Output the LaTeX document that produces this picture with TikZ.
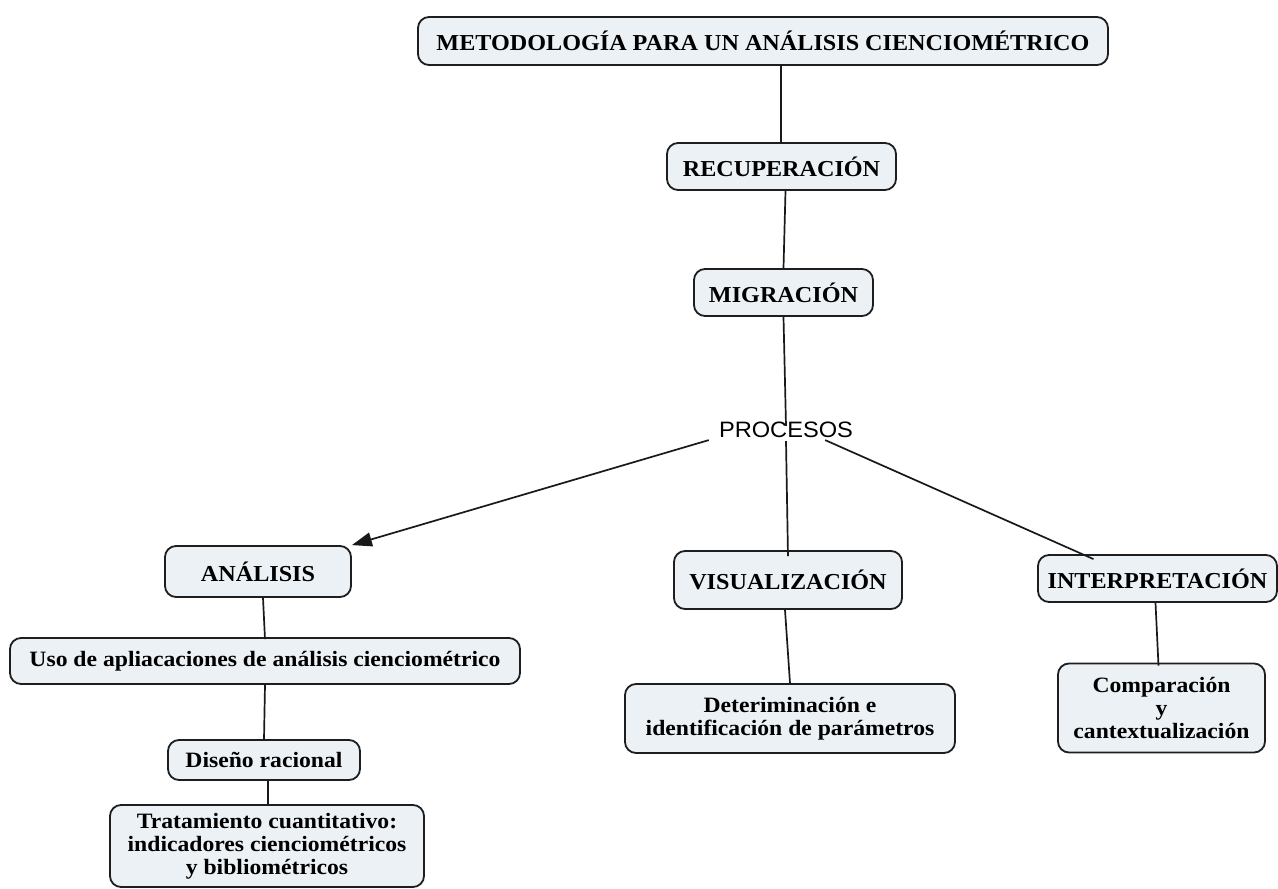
\documentclass[tikz,border=0pt]{standalone}
\usepackage{fontspec}
\setmainfont{Liberation Serif}
\newfontfamily\boxfont[FakeStretch=1.06]{Liberation Serif}
\newfontfamily\smallboxfont[FakeStretch=1.08]{Liberation Serif}
\newfontfamily\procfont[FakeStretch=1.06]{Liberation Sans}
\usetikzlibrary{arrows.meta}
\definecolor{boxfill}{RGB}{235,241,244}
\definecolor{boxline}{RGB}{30,30,30}
\tikzset{
  cbox/.style={draw=boxline, line width=1.8pt, rounded corners=11pt, fill=boxfill,
    align=center, inner sep=0pt},
  big/.style={font=\boxfont\bfseries\fontsize{22.8}{26}\selectfont},
  small/.style={font=\smallboxfont\bfseries\fontsize{21.9}{23}\selectfont},
  conn/.style={line width=1.7pt, draw=black!90},
}
\begin{document}
\begin{tikzpicture}[x=1pt,y=-1pt]
\useasboundingbox (0,0) rectangle (1278,889);
\node[cbox,big,minimum width=690pt,minimum height=48pt] (title) at (763,41) {METODOLOGÍA PARA UN ANÁLISIS CIENCIOMÉTRICO};
\node[cbox,big,minimum width=229pt,minimum height=47pt] (recup) at (781.5,166.5) {RECUPERACIÓN};
\node[cbox,big,minimum width=179pt,minimum height=47pt] (migr) at (783.5,292.5) {MIGRACIÓN};
\node[font=\procfont\fontsize{22.3}{26}\selectfont, inner sep=2pt] (proc) at (786,430) {PROCESOS};
\node[cbox,big,minimum width=186pt,minimum height=51pt] (anal) at (258,571.5) {ANÁLISIS};
\node[cbox,big,minimum width=228pt,minimum height=58pt] (vis) at (788,580) {VISUALIZACIÓN};
\node[cbox,big,minimum width=239pt,minimum height=47pt] (interp) at (1157.5,578.5) {INTERPRETACIÓN};
\node[cbox,small,minimum width=330pt,minimum height=69pt] (det) at (790,718.5) {Deteriminación e\\identificación de parámetros};
\node[cbox,small,minimum width=207pt,minimum height=89pt] (comp) at (1161.5,708) {Comparación\\y\\cantextualización};
\node[cbox,small,minimum width=510pt,minimum height=46pt] (uso) at (265,661) {Uso de apliacaciones de análisis cienciométrico};
\node[cbox,small,minimum width=192pt,minimum height=40pt] (dis) at (264,760) {Diseño racional};
\node[cbox,small,minimum width=314pt,minimum height=82pt] (trat) at (267,846) {Tratamiento cuantitativo:\\indicadores cienciométricos\\y bibliométricos};
% connectors
\draw[conn] (recup.north -| 781,0) -- (title.south -| 781,0);
\draw[conn] ([xshift=4pt]recup.south) -- ([xshift=0pt]migr.north);
\draw[conn] (migr.south) -- ([yshift=-6pt]proc.north);
\draw[conn,-{Triangle[length=20pt,width=14pt]}] ([xshift=-8pt]proc.south west) -- (anal.north east);
\draw[conn] ([yshift=-1pt]proc.south) -- ([yshift=-6pt]vis.north);
\draw[conn] ([xshift=-30pt]proc.south east) -- ([xshift=-64pt,yshift=-5pt]interp.north);
\draw[conn] ([xshift=-3pt]vis.south) -- ([yshift=0pt]det.north);
\draw[conn] ([xshift=-2pt]interp.south) -- ([xshift=-3pt,yshift=-3pt]comp.north);
\draw[conn] ([xshift=5pt]anal.south) -- ([yshift=-2pt]uso.north);
\draw[conn] (uso.south) -- (dis.north);
\draw[conn] ([xshift=4pt]dis.south) -- ([xshift=1pt]trat.north);
\end{tikzpicture}
\end{document}
